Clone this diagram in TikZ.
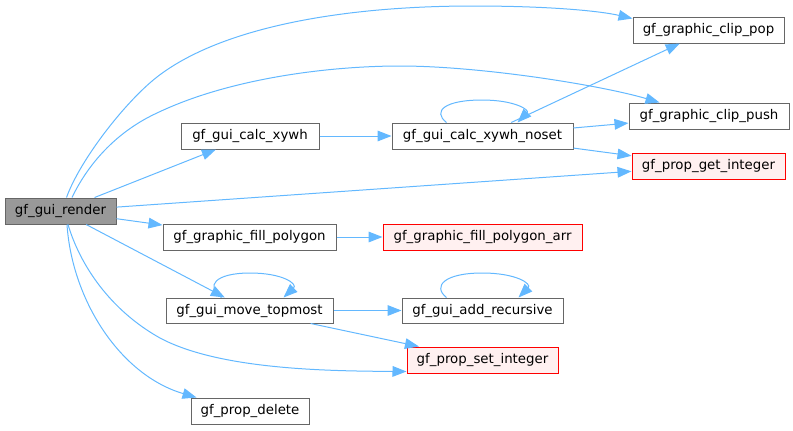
\documentclass[tikz,border=0pt]{standalone}
\usepackage{fontspec}
\setmainfont{DejaVu Sans}
\usetikzlibrary{arrows.meta,calc}
\definecolor{edgeblue}{HTML}{63B8FF}
\definecolor{nodegray}{HTML}{666666}
\definecolor{rootfill}{HTML}{999999}
\definecolor{redfill}{HTML}{FFF0F0}
\begin{document}
\begin{tikzpicture}[x=0.75pt,y=-0.75pt,
  fn/.style={draw=nodegray, fill=white, line width=0.75pt, minimum height=19.5pt, inner sep=0pt, font=\fontsize{10}{12}\selectfont},
  rootfn/.style={fn, fill=rootfill},
  extfn/.style={fn, draw=red, fill=redfill},
  call/.style={draw=edgeblue, line width=0.75pt, -{Triangle[length=10.5pt,width=8pt]}}]
\useasboundingbox (0,0) rectangle (793,430);

\node[rootfn, minimum width=83.25pt]  (render)  at (60.5,211)   {gf\_gui\_render};
\node[fn,     minimum width=113.25pt] (clippop) at (708.5,30)   {gf\_graphic\_clip\_pop};
\node[fn,     minimum width=120pt]    (clippush) at (709,116)   {gf\_graphic\_clip\_push};
\node[extfn,  minimum width=114.75pt] (getint)  at (708.5,166)  {gf\_prop\_get\_integer};
\node[fn,     minimum width=103.5pt]  (calc)    at (250,136)    {gf\_gui\_calc\_xywh};
\node[fn,     minimum width=135.75pt] (noset)   at (482.5,136)  {gf\_gui\_calc\_xywh\_noset};
\node[fn,     minimum width=129.75pt] (fill)    at (249.5,237)  {gf\_graphic\_fill\_polygon};
\node[extfn,  minimum width=149.25pt] (fillarr) at (482.5,237)  {gf\_graphic\_fill\_polygon\_arr};
\node[fn,     minimum width=125.25pt, minimum height=18.75pt] (move) at (249.5,310.5) {gf\_gui\_move\_topmost};
\node[fn,     minimum width=120.75pt, minimum height=18.75pt] (addrec) at (482.5,310.5) {gf\_gui\_add\_recursive};
\node[extfn,  minimum width=113.25pt] (setint)  at (482.5,360)  {gf\_prop\_set\_integer};
\node[fn,     minimum width=88.5pt]   (pdel)    at (250,411)    {gf\_prop\_delete};

% curved calls from gf_gui_render
\draw[call] ($(render.north)+(6,0)$) .. controls (80,160) and (125,102) .. (157,77)
  .. controls (220,28) and (340,6) .. (473,6)
  .. controls (550,6) and (600,11) .. ($(clippop.north west)+(0,2)$);
\draw[call] ($(render.north)+(11.5,0)$) .. controls (90,160) and (120,130) .. (157,113)
  .. controls (230,78) and (330,66) .. (400,66)
  .. controls (480,66) and (600,85) .. ($(clippush.north west)+(31,0)$);
\draw[call] ($(render.south)+(7.5,0)$) .. controls (80,265) and (110,310) .. (160,338)
  .. controls (220,370) and (330,371) .. ($(setint.south west)+(0,-2)$);
\draw[call] ($(render.south)+(6.5,0)$) .. controls (72,300) and (120,375) .. ($(pdel.north west)+(6,0)$);

% straight calls
\draw[call] (render) -- (calc);
\draw[call] (render) -- (getint);
\draw[call] (render) -- (fill);
\draw[call] (render) -- (move);
\draw[call] (calc) -- (noset);
\draw[call] (noset) -- (clippop);
\draw[call] (noset) -- (clippush);
\draw[call] (noset) -- (getint);
\draw[call] (fill) -- (fillarr);
\draw[call] (move) -- (addrec);
\draw[call] (move) -- (setint);

% self loops
\draw[call] ($(noset.north west)+(55,0)$) .. controls (432,111) and (445,100) .. (482,100)
  .. controls (515,100) and (530,110) .. ($(noset.north west)+(126,0)$);
\draw[call] ($(move.north west)+(56,0)$) .. controls (205,286) and (215,273) .. (250,273)
  .. controls (283,273) and (298,284) .. ($(move.north west)+(118,0)$);
\draw[call] ($(addrec.north west)+(45,0)$) .. controls (432,286) and (445,273) .. (482,273)
  .. controls (517,273) and (532,284) .. ($(addrec.north west)+(117,0)$);
\end{tikzpicture}
\end{document}
